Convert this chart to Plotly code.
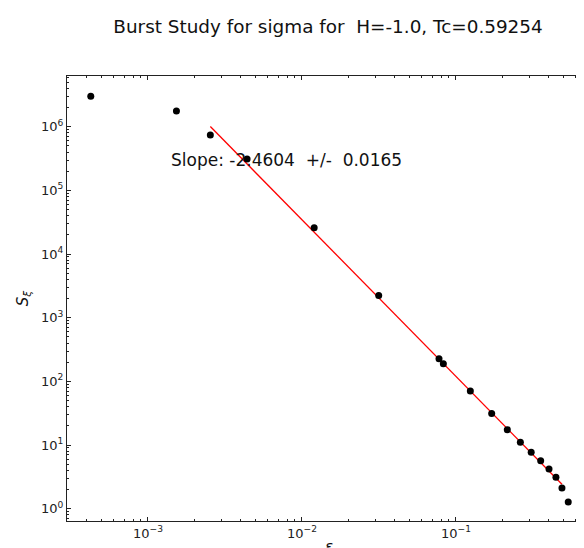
import plotly.graph_objects as go
import numpy as np

# Data
eps = [4.25e-4, 1.53e-3, 2.54e-3, 4.40e-3, 1.20e-2, 3.15e-2, 7.76e-2, 8.28e-2,
       0.124, 0.1706, 0.2155, 0.262, 0.308, 0.355, 0.402, 0.446, 0.488, 0.536]
s_xi = [3.01e6, 1.77e6, 7.43e5, 3.12e5, 2.58e4, 2.24e3, 226, 189,
        70.4, 31.2, 17.4, 11.1, 7.68, 5.67, 4.20, 3.11, 2.11, 1.27]

slope = -2.4604
slope_err = 0.0165
intercept = -0.382          # log10 intercept of fit
fit_first, fit_last = 2, 16  # fit range indices in eps

title_text = "Burst Study for sigma for\u00a0\u00a0H=-1.0, Tc=0.59254"

x_major = [1e-3, 1e-2, 1e-1]
x_major_text = ["10<sup>\u22123</sup>", "10<sup>\u22122</sup>", "10<sup>\u22121</sup>"]
y_major = [1e0, 1e1, 1e2, 1e3, 1e4, 1e5, 1e6]
y_major_text = ["10<sup>%d</sup>" % k for k in range(0, 7)]

x_minor = [m * 10.0**k for k in range(-4, 0) for m in range(2, 10)]
y_minor = [m * 10.0**k for k in range(-1, 7) for m in range(2, 10)]

fit_x = np.array([eps[fit_first], eps[fit_last]])
fit_y = 10**intercept * fit_x**slope

fig = go.Figure()
fig.add_trace(go.Scatter(x=list(fit_x), y=list(fit_y), mode="lines",
                         line=dict(color="#ff0000", width=1.3), showlegend=False))
fig.add_trace(go.Scatter(x=eps, y=s_xi, mode="markers",
                         marker=dict(color="black", size=7), showlegend=False))

axis_common = dict(
    showgrid=False, zeroline=False, showline=True, linecolor="#222", linewidth=1,
    mirror="ticks", ticks="inside", ticklen=4, tickcolor="#222",
    tickfont=dict(family="DejaVu Sans", size=13, color="#222"),
)

fig.update_xaxes(type="log", range=[-3.526, -0.123], tickmode="array",
                 tickvals=x_major, ticktext=x_major_text,
                 minor=dict(tickvals=x_minor, ticks="inside", ticklen=2, tickcolor="#222", showgrid=False),
                 title=dict(text="<i>\u03b5</i>", font=dict(family="DejaVu Sans", size=15, color="#111"), standoff=2),
                 **axis_common)
fig.update_yaxes(type="log", range=[-0.193, 6.797], tickmode="array",
                 tickvals=y_major, ticktext=y_major_text,
                 minor=dict(tickvals=y_minor, ticks="inside", ticklen=2, tickcolor="#222", showgrid=False),
                 title=dict(text="<i>S<sub>\u03be</sub></i>", font=dict(family="DejaVu Sans", size=15, color="#111"), standoff=8),
                 **axis_common)

fig.add_annotation(x=0.195, y=0.8114, xref="paper", yref="paper",
                   xanchor="left", yanchor="middle", showarrow=False,
                   text="Slope: %.4f\u00a0\u00a0+/-\u00a0\u00a0%.4f" % (slope, slope_err),
                   font=dict(family="DejaVu Sans", size=17, color="#111"))

fig.update_layout(
    width=584, height=548,
    margin=dict(l=59, r=1, t=68, b=35),
    paper_bgcolor="white", plot_bgcolor="white",
    title=dict(text=title_text, x=0.548, xanchor="center", y=0.967, yanchor="middle",
               font=dict(family="DejaVu Sans", size=18.4, color="#111")),
)

fig.write_html("out.html")
